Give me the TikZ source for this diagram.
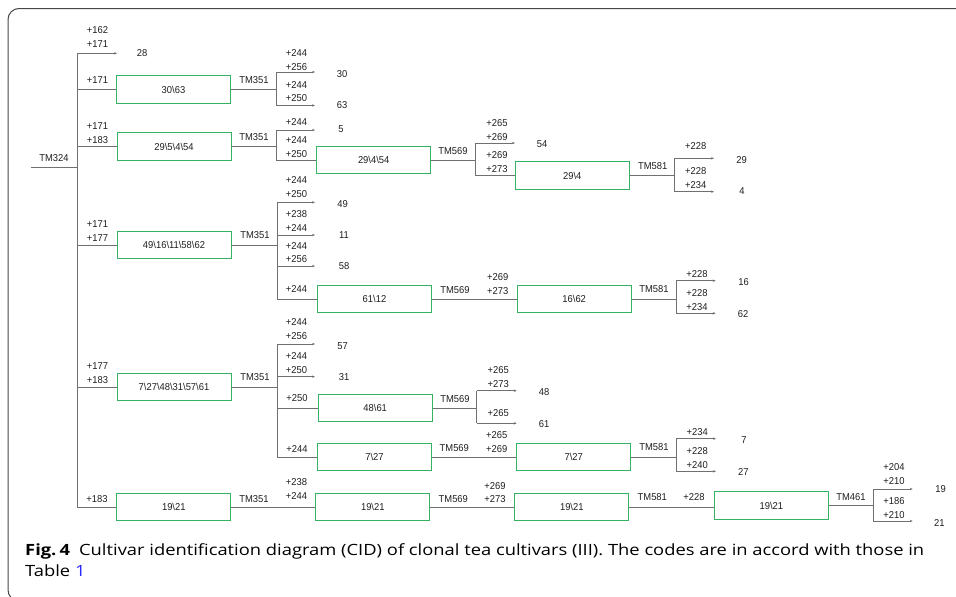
\documentclass[tikz,border=0pt]{standalone}
\usepackage{fontspec}
\usepackage{graphicx}
\usetikzlibrary{arrows.meta}
\newfontfamily\lbl[FakeStretch=0.94]{Liberation Sans}
\newfontfamily\capfont{Open Sans}
\definecolor{boxgreen}{RGB}{52,178,98}
\definecolor{lncol}{RGB}{112,112,112}
\definecolor{txt}{RGB}{30,30,30}
\definecolor{capcol}{RGB}{35,31,32}
\definecolor{linkblue}{RGB}{40,40,255}
\definecolor{framecol}{RGB}{70,70,70}
\newsavebox\capbox
\newsavebox\capboxb
\newcommand\bksl{\textbackslash}
\begin{document}
\sbox\capbox{\capfont\fontsize{15.5}{18}\selectfont\textbf{Fig.\,4}\hspace{0.5em}Cultivar identification diagram (CID) of clonal tea cultivars (III). The codes are in accord with those in}%
\sbox\capboxb{\capfont\fontsize{15.5}{18}\selectfont Table \textcolor{linkblue}{1}}%
\pgfmathsetmacro\capsx{899/\the\wd\capbox}%
\begin{tikzpicture}[x=1pt,y=-1pt,
  lab/.style={font=\lbl\fontsize{10}{12}\selectfont, text=txt, inner sep=0pt},
  box/.style={lab, draw=boxgreen, line width=0.9pt, minimum width=114pt, minimum height=27.5pt},
  ln/.style={draw=lncol, line width=0.8pt},
  arr/.style={ln, -{Stealth[length=3pt,width=2.4pt]}}]
\useasboundingbox (0,0) rectangle (956,597);
\draw[draw=framecol, line width=1pt, rounded corners=11pt] (962,8.5) -- (8,8.5) -- (8,601) -- (962,601);
% caption
\node[anchor=base west, inner sep=0pt, text=capcol] (cap1) at (25,555) {\scalebox{\capsx}[1]{\usebox\capbox}};
\node[anchor=base west, inner sep=0pt, text=capcol] (cap2) at (25,576.7) {\scalebox{\capsx}[1]{\usebox\capboxb}};
% root
\node[lab] (tm324) at (54,158) {TM324};
\coordinate (r0) at (31,167.5);
\coordinate (j0) at (77,167.5);
\coordinate (j0t) at (77,53.3);
\coordinate (j0b) at (77,507);
\draw[ln] (r0) -- (j0);
\draw[ln] (j0t) -- (j0b);
\coordinate (e28) at (117,53.3);
\draw[arr] (j0t) -- (e28);
\node[lab] (n28) at (142,53.3) {28};
\node[lab] (a1) at (97.5,30) {+162};
\node[lab] (a2) at (97.5,44) {+171};
% column 1 boxes
\node[box] (b1) at (173.5,89.5) {30\bksl 63};
\node[box] (b2) at (174,146.5) {29\bksl 5\bksl 4\bksl 54};
\node[box] (b5) at (174,245) {49\bksl 16\bksl 11\bksl 58\bksl 62};
\node[box] (b8) at (174,387) {7\bksl 27\bksl 48\bksl 31\bksl 57\bksl 61};
\node[box] (b12) at (173.8,507) {19\bksl 21};
\draw[ln] (j0 |- b1) -- (b1);
\draw[ln] (j0 |- b2) -- (b2);
\draw[ln] (j0 |- b5) -- (b5);
\draw[ln] (j0 |- b8) -- (b8);
\draw[ln] (j0 |- b12) -- (b12);
\node[lab] (a3) at (97.5,80) {+171};
\node[lab] (a4) at (97.5,126) {+171};
\node[lab] (a5) at (97.5,140) {+183};
\node[lab] (a6) at (97.5,224) {+171};
\node[lab] (a7) at (97.5,238.3) {+177};
\node[lab] (a8) at (97.5,365.7) {+177};
\node[lab] (a9) at (97.5,380) {+183};
\node[lab] (a10) at (97,499) {+183};
\node[lab] (t1) at (254,80) {TM351};
\node[lab] (t2) at (254,137) {TM351};
\node[lab] (t3) at (255,235.3) {TM351};
\node[lab] (t4) at (255,377.3) {TM351};
\node[lab] (t5) at (254,499) {TM351};
% column 2 boxes
\node[box] (b3) at (373.7,160) {29\bksl 4\bksl 54};
\node[box] (b6) at (374.5,299) {61\bksl 12};
\node[box] (b9) at (375.2,408) {48\bksl 61};
\node[box] (b10) at (374.5,457) {7\bksl 27};
\node[box] (b13) at (372.8,507) {19\bksl 21};
% junction after b1
\coordinate (k1) at (276,89.5);
\coordinate (k1a) at (276,72);
\coordinate (k1b) at (276,105.5);
\coordinate (e30) at (315,72);
\coordinate (e63) at (315,105.5);
\draw[ln] (b1) -- (k1);
\draw[ln] (k1a) -- (k1b);
\draw[arr] (k1a) -- (e30);
\draw[arr] (k1b) -- (e63);
\node[lab] (n30) at (342,74) {30};
\node[lab] (n63) at (342,105) {63};
\node[lab] (c1) at (296.5,53) {+244};
\node[lab] (c2) at (296.5,67) {+256};
\node[lab] (c3) at (296.5,85) {+244};
\node[lab] (c4) at (296.5,98) {+250};
% junction after b2
\coordinate (k2) at (276,146.5);
\coordinate (k2a) at (276,130);
\coordinate (k2b) at (276,160);
\coordinate (e5) at (315,130);
\draw[ln] (b2) -- (k2);
\draw[ln] (k2a) -- (k2b);
\draw[arr] (k2a) -- (e5);
\draw[ln] (k2b) -- (b3);
\node[lab] (n5) at (341,129) {5};
\node[lab] (c5) at (296.5,122) {+244};
\node[lab] (c6) at (296.5,140) {+244};
\node[lab] (c7) at (296.5,154) {+250};
% junction after b5
\coordinate (k5) at (277,245);
\coordinate (k5a) at (277,202.3);
\coordinate (k5b) at (277,299);
\coordinate (e49) at (315,202.3);
\coordinate (e11) at (315,235);
\coordinate (e58) at (315,266);
\draw[ln] (b5) -- (k5);
\draw[ln] (k5a) -- (k5b);
\draw[arr] (k5a) -- (e49);
\draw[arr] (e11 -| k5) -- (e11);
\draw[arr] (e58 -| k5) -- (e58);
\draw[ln] (k5b) -- (b6);
\node[lab] (n49) at (342.7,204) {49};
\node[lab] (n11) at (344,235.3) {11};
\node[lab] (n58) at (344,266) {58};
\node[lab] (c8) at (296.5,180) {+244};
\node[lab] (c9) at (296.5,194) {+250};
\node[lab] (c10) at (296.5,214) {+238};
\node[lab] (c11) at (296.5,228) {+244};
\node[lab] (c12) at (296.5,246.3) {+244};
\node[lab] (c13) at (296.5,259) {+256};
\node[lab] (c14) at (296.5,289) {+244};
% junction after b8
\coordinate (k8) at (277,387);
\coordinate (k8a) at (277,344);
\coordinate (k8b) at (277,457);
\coordinate (e57) at (315,344);
\coordinate (e31) at (315,376.7);
\draw[ln] (b8) -- (k8);
\draw[ln] (k8a) -- (k8b);
\draw[arr] (k8a) -- (e57);
\draw[arr] (e31 -| k8) -- (e31);
\draw[ln] (b9 -| k8) -- (b9);
\draw[ln] (k8b) -- (b10);
\node[lab] (n57) at (342.7,346) {57};
\node[lab] (n31) at (344,377.3) {31};
\node[lab] (c15) at (296.5,322.3) {+244};
\node[lab] (c16) at (296.5,336) {+256};
\node[lab] (c17) at (296.5,356) {+244};
\node[lab] (c18) at (296.5,370) {+250};
\node[lab] (c19) at (297,398.3) {+250};
\node[lab] (c20) at (297,449) {+244};
% b12 -> b13
\draw[ln] (b12) -- (b13);
\node[lab] (c21) at (296.5,482.3) {+238};
\node[lab] (c22) at (296.5,496) {+244};
% column 3 boxes
\node[box] (b4) at (572.3,175.5) {29\bksl 4};
\node[box] (b7) at (574.2,299) {16\bksl 62};
\node[box] (b11) at (573.7,457) {7\bksl 27};
\node[box] (b14) at (571.8,507) {19\bksl 21};
\node[lab] (t6) at (453,151) {TM569};
\node[lab] (t7) at (455,290) {TM569};
\node[lab] (t8) at (455,399.3) {TM569};
\node[lab] (t9) at (454.3,448.3) {TM569};
\node[lab] (t10) at (453.3,499) {TM569};
% junction after b3
\coordinate (k3) at (475.7,160);
\coordinate (k3a) at (475.7,143);
\coordinate (k3b) at (475.7,175.5);
\coordinate (e54) at (515,143);
\draw[ln] (b3) -- (k3);
\draw[ln] (k3a) -- (k3b);
\draw[arr] (k3a) -- (e54);
\draw[ln] (k3b) -- (b4);
\node[lab] (n54) at (542,144) {54};
\node[lab] (d1) at (497,123) {+265};
\node[lab] (d2) at (497,137) {+269};
\node[lab] (d3) at (497,155) {+269};
\node[lab] (d4) at (497,169) {+273};
% b6 -> b7
\draw[ln] (b6) -- (b7);
\node[lab] (d5) at (497.7,277.3) {+269};
\node[lab] (d6) at (497.7,291) {+273};
% junction after b9
\coordinate (k9) at (476.7,408);
\coordinate (k9a) at (476.7,390.7);
\coordinate (k9b) at (476.7,423.3);
\coordinate (e48) at (516.7,390.7);
\coordinate (e61) at (516.7,423.3);
\draw[ln] (b9) -- (k9);
\draw[ln] (k9a) -- (k9b);
\draw[arr] (k9a) -- (e48);
\draw[arr] (k9b) -- (e61);
\node[lab] (n48) at (544,392) {48};
\node[lab] (n61) at (544,424) {61};
\node[lab] (d7) at (498.3,370) {+265};
\node[lab] (d8) at (498.3,384) {+273};
\node[lab] (d9) at (498.3,413) {+265};
% b10 -> b11, b13 -> b14
\draw[ln] (b10) -- (b11);
\node[lab] (d10) at (496.7,435) {+265};
\node[lab] (d11) at (496.7,449) {+269};
\draw[ln] (b13) -- (b14);
\node[lab] (d12) at (495,485.7) {+269};
\node[lab] (d13) at (495,499.3) {+273};
% column 4
\node[lab] (t11) at (652.7,166) {TM581};
\node[lab] (t12) at (654,289.3) {TM581};
\node[lab] (t13) at (654,446.7) {TM581};
\node[lab] (t14) at (652.3,496.7) {TM581};
\coordinate (k4) at (674.7,175.5);
\coordinate (k4a) at (674.7,158.3);
\coordinate (k4b) at (674.7,191.7);
\coordinate (e29) at (714,158.3);
\coordinate (e4) at (714,191.7);
\draw[ln] (b4) -- (k4);
\draw[ln] (k4a) -- (k4b);
\draw[arr] (k4a) -- (e29);
\draw[arr] (k4b) -- (e4);
\node[lab] (n29) at (741.7,160) {29};
\node[lab] (n4) at (742,190.7) {4};
\node[lab] (f1) at (695.7,146) {+228};
\node[lab] (f2) at (695.7,171) {+228};
\node[lab] (f3) at (695.7,185) {+234};
\coordinate (k7) at (676.3,299);
\coordinate (k7a) at (676.3,280.7);
\coordinate (k7b) at (676.3,313.3);
\coordinate (e16) at (715.7,280.7);
\coordinate (e62) at (715.7,313.3);
\draw[ln] (b7) -- (k7);
\draw[ln] (k7a) -- (k7b);
\draw[arr] (k7a) -- (e16);
\draw[arr] (k7b) -- (e62);
\node[lab] (n16) at (743.7,282) {16};
\node[lab] (n62) at (743,314) {62};
\node[lab] (f4) at (697,274) {+228};
\node[lab] (f5) at (697,293) {+228};
\node[lab] (f6) at (697,307) {+234};
\coordinate (k11) at (676,457);
\coordinate (k11a) at (676,438.7);
\coordinate (k11b) at (676,471.3);
\coordinate (e7) at (716,438.7);
\coordinate (e27) at (716,471.3);
\draw[ln] (b11) -- (k11);
\draw[ln] (k11a) -- (k11b);
\draw[arr] (k11a) -- (e7);
\draw[arr] (k11b) -- (e27);
\node[lab] (n7) at (744,440) {7};
\node[lab] (n27) at (743.3,472) {27};
\node[lab] (f7) at (697.3,432.3) {+234};
\node[lab] (f8) at (697.3,451) {+228};
\node[lab] (f9) at (697.3,465) {+240};
% b14 -> b15
\node[box] (b15) at (771.3,505.5) {19\bksl 21};
\draw[ln] (b14) -- (b14 -| b15.west);
\node[lab] (f10) at (694,496.7) {+228};
% column 5
\node[lab] (t15) at (851,497.3) {TM461};
\coordinate (k15) at (873.3,505.5);
\coordinate (k15a) at (873.3,489);
\coordinate (k15b) at (873.3,521);
\coordinate (e19) at (912.7,489);
\coordinate (e21) at (912.7,521);
\draw[ln] (b15) -- (k15);
\draw[ln] (k15a) -- (k15b);
\draw[arr] (k15a) -- (e19);
\draw[arr] (k15b) -- (e21);
\node[lab] (n19) at (940.7,489.3) {19};
\node[lab] (n21) at (939.3,522.7) {21};
\node[lab] (g1) at (894,467.3) {+204};
\node[lab] (g2) at (894,481) {+210};
\node[lab] (g3) at (894,501) {+186};
\node[lab] (g4) at (894,515) {+210};
\end{tikzpicture}
\end{document}
